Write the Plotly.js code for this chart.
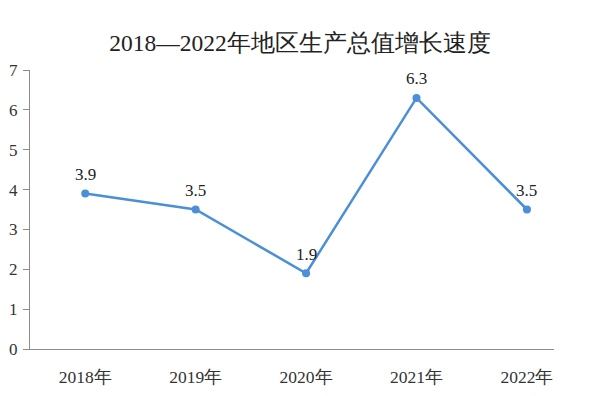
<!DOCTYPE html>
<html>
<head>
<meta charset="utf-8">
<script src="https://cdn.plot.ly/plotly-3.0.1.min.js"></script>
<style>html,body{margin:0;padding:0;background:#fff;}#chart{width:600px;height:396px;}</style>
</head>
<body>
<div id="chart"></div>
<script>
const categories = ["2018年", "2019年", "2020年", "2021年", "2022年"];
const growthRate = [3.9, 3.5, 1.9, 6.3, 3.5];
const valueLabels = ["3.9", "3.5", "1.9", "6.3", "3.5"];
const yTicks = [0, 1, 2, 3, 4, 5, 6, 7];

const fontFam = 'Liberation Serif';

const trace = {
  x: categories,
  y: growthRate,
  type: 'scatter',
  mode: 'lines+markers',
  line: {color: '#4a8fd8', width: 2.5},
  marker: {color: '#4a8fd8', size: 8},
  cliponaxis: false,
  hoverinfo: 'none'
};

const annotations = categories.map((c, i) => ({
  x: c,
  y: growthRate[i],
  text: valueLabels[i],
  showarrow: false,
  yshift: 19,
  xanchor: 'center',
  yanchor: 'middle',
  font: {family: fontFam, size: 17, color: '#222'}
}));

const layout = {
  width: 600,
  height: 396,
  font: {family: fontFam, size: 16, color: '#333'},
  margin: {l: 30, r: 46, t: 70, b: 47},
  paper_bgcolor: '#fff',
  plot_bgcolor: '#fff',
  showlegend: false,
  annotations: annotations,
  title: {
    text: '2018—2022年地区生产总值增长速度',
    font: {family: fontFam, size: 23.5, color: '#222'},
    x: 0.5, xanchor: 'center', y: 0.893, yanchor: 'middle'
  },
  xaxis: {
    type: 'category',
    range: [-0.5, 4.245],
    showline: true,
    linecolor: '#8c8c8c',
    linewidth: 1.3,
    showgrid: false,
    zeroline: false,
    ticks: '',
    ticklabelstandoff: 12,
    tickfont: {family: fontFam, size: 17.5, color: '#333'}
  },
  yaxis: {
    range: [0, 7],
    tickvals: yTicks,
    showline: true,
    linecolor: '#8c8c8c',
    linewidth: 1.3,
    showgrid: false,
    zeroline: false,
    ticks: 'outside',
    ticklen: 6,
    tickcolor: '#8c8c8c',
    tickwidth: 1.3,
    ticklabelstandoff: 2,
    tickfont: {family: fontFam, size: 17, color: '#333'}
  }
};

Plotly.newPlot('chart', [trace], layout, {displayModeBar: false});
</script>
</body>
</html>
